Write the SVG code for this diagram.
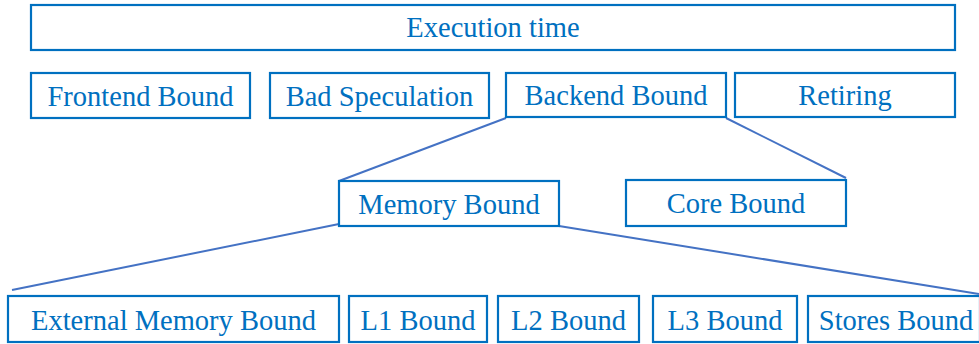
<svg xmlns="http://www.w3.org/2000/svg" width="979" height="344" viewBox="0 0 979 344">
<style>
.box{fill:#fff;stroke:#0070C0;stroke-width:2.2}
.lbl{font-family:"Liberation Serif","Times New Roman",serif;font-size:28.5px;fill:#0070C0;text-anchor:middle}
.conn{stroke:#4472C4;stroke-width:2;fill:none}
</style>
<rect width="979" height="344" fill="#fff"/>
<g id="connectors">
<line class="conn" x1="506" y1="118" x2="339" y2="181"/>
<line class="conn" x1="726" y1="118" x2="846" y2="178"/>
<line class="conn" x1="339" y1="224" x2="12" y2="290"/>
<line class="conn" x1="559" y1="226" x2="979" y2="294"/>
</g>
<g id="execution-time"><rect class="box" x="31" y="5" width="924" height="45"/><text class="lbl" x="493" y="37">Execution time</text></g>
<g id="frontend-bound"><rect class="box" x="31" y="73" width="219" height="45"/><text class="lbl" x="140.5" y="106">Frontend Bound</text></g>
<g id="bad-speculation"><rect class="box" x="270" y="73" width="219" height="45"/><text class="lbl" x="379.5" y="106">Bad Speculation</text></g>
<g id="backend-bound"><rect class="box" x="506" y="73" width="220" height="44"/><text class="lbl" x="616" y="105">Backend Bound</text></g>
<g id="retiring"><rect class="box" x="735" y="73" width="220" height="44"/><text class="lbl" x="845" y="105">Retiring</text></g>
<g id="memory-bound"><rect class="box" x="339" y="181" width="220" height="45"/><text class="lbl" x="449" y="214">Memory Bound</text></g>
<g id="core-bound"><rect class="box" x="626" y="180" width="220" height="46"/><text class="lbl" x="736" y="213">Core Bound</text></g>
<g id="external-memory-bound"><rect class="box" x="8" y="296" width="331" height="46"/><text class="lbl" x="173.5" y="330">External Memory Bound</text></g>
<g id="l1-bound"><rect class="box" x="349" y="296" width="138" height="46"/><text class="lbl" x="418" y="330">L1 Bound</text></g>
<g id="l2-bound"><rect class="box" x="498" y="296" width="141" height="46"/><text class="lbl" x="568.5" y="330">L2 Bound</text></g>
<g id="l3-bound"><rect class="box" x="653" y="296" width="144" height="46"/><text class="lbl" x="725" y="330">L3 Bound</text></g>
<g id="stores-bound"><rect class="box" x="808" y="296" width="172" height="46"/><text class="lbl" x="896" y="330">Stores Bound</text></g>
</svg>
